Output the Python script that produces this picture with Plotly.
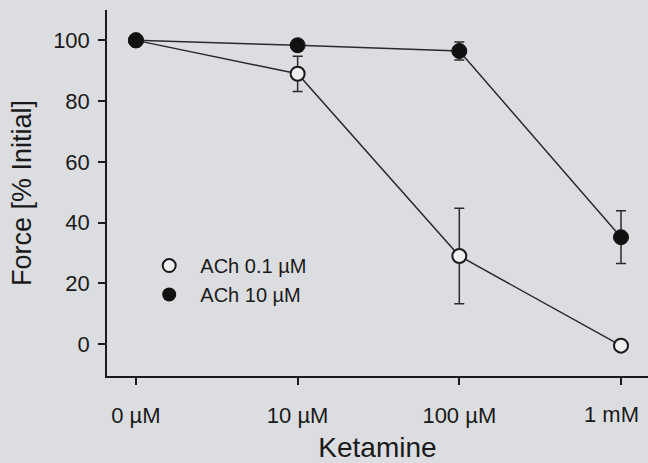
import plotly.graph_objects as go

categories = ["0 \u00b5M", "10 \u00b5M", "100 \u00b5M", "1 mM"]
ach_low = [100, 89, 29, -0.5]
ach_low_err = [0, 5.8, 15.7, 0]
ach_high = [100, 98.4, 96.5, 35.2]
ach_high_err = [0, 1.8, 3.0, 8.7]
y_ticks = [0, 20, 40, 60, 80, 100]
legend_names = ["ACh 0.1 \u00b5M", "ACh 10 \u00b5M"]

xpos = list(range(len(categories)))
# last category label is drawn as an annotation, right-aligned so it stays inside the page
tick_text = categories[:-1] + [""]
legend_text = ["\u00a0\u00a0" + n for n in legend_names]

bg = "rgb(220,221,225)"
font = "Liberation Sans, Arial, sans-serif"

fig = go.Figure()
fig.add_trace(go.Scatter(
    x=xpos, y=ach_low, mode="lines+markers", showlegend=False,
    line=dict(color="#2a2a2a", width=1.5),
    marker=dict(symbol="circle", size=14, color="rgb(238,239,241)", line=dict(color="#1a1a1a", width=2)),
    error_y=dict(type="data", array=ach_low_err, visible=True, color="#2a2a2a", thickness=1.5, width=5),
))
fig.add_trace(go.Scatter(
    x=xpos, y=ach_high, mode="lines+markers", showlegend=False,
    line=dict(color="#2a2a2a", width=1.5),
    marker=dict(symbol="circle", size=15, color="#111111", line=dict(color="#111111", width=1)),
    error_y=dict(type="data", array=ach_high_err, visible=True, color="#2a2a2a", thickness=1.5, width=5),
))
# legend entries
fig.add_trace(go.Scatter(
    x=[None], y=[None], mode="markers", name=legend_text[0],
    marker=dict(symbol="circle", size=13, color="rgb(238,239,241)", line=dict(color="#1a1a1a", width=2)),
))
fig.add_trace(go.Scatter(
    x=[None], y=[None], mode="markers", name=legend_text[1],
    marker=dict(symbol="circle", size=14, color="#111111"),
))

fig.add_annotation(
    x=xpos[-1], xref="x", y=0, yref="paper", yanchor="top", xanchor="right",
    xshift=20, yshift=-24, text=categories[-1], showarrow=False,
    font=dict(family=font, size=22, color="#1a1a1a"),
)

fig.update_layout(
    width=648, height=463,
    margin=dict(l=107, r=0, t=10, b=87, autoexpand=False),
    paper_bgcolor=bg, plot_bgcolor=bg,
    font=dict(family=font, size=22, color="#1a1a1a"),
    legend=dict(x=0.078, y=0.355, xanchor="left", yanchor="top",
                bgcolor="rgba(0,0,0,0)", font=dict(size=20), tracegroupgap=0),
    xaxis=dict(
        range=[-0.179, 3.167], tickvals=xpos, ticktext=tick_text,
        showgrid=False, zeroline=False, showline=True, linecolor="#1a1a1a", linewidth=1.5,
        ticks="outside", ticklen=7, tickwidth=1.5, tickcolor="#1a1a1a",
        title=dict(text="Ketamine", font=dict(size=28), standoff=14),
        ticklabelstandoff=12, automargin=False,
    ),
    yaxis=dict(
        range=[-10.5, 110], tickvals=y_ticks,
        showgrid=False, zeroline=False, showline=True, linecolor="#1a1a1a", linewidth=1.5,
        ticks="outside", ticklen=7, tickwidth=1.5, tickcolor="#1a1a1a",
        title=dict(text="Force [% Initial]", font=dict(size=27), standoff=14),
        ticklabelstandoff=4, automargin=False,
    ),
)

html = fig.to_html(full_html=True, include_plotlyjs=True, config={"displayModeBar": False})
html = html.replace("<body>", '<body style="margin:0;padding:0;overflow:hidden;">', 1)
with open("out.html", "w", encoding="utf-8") as f:
    f.write(html)
